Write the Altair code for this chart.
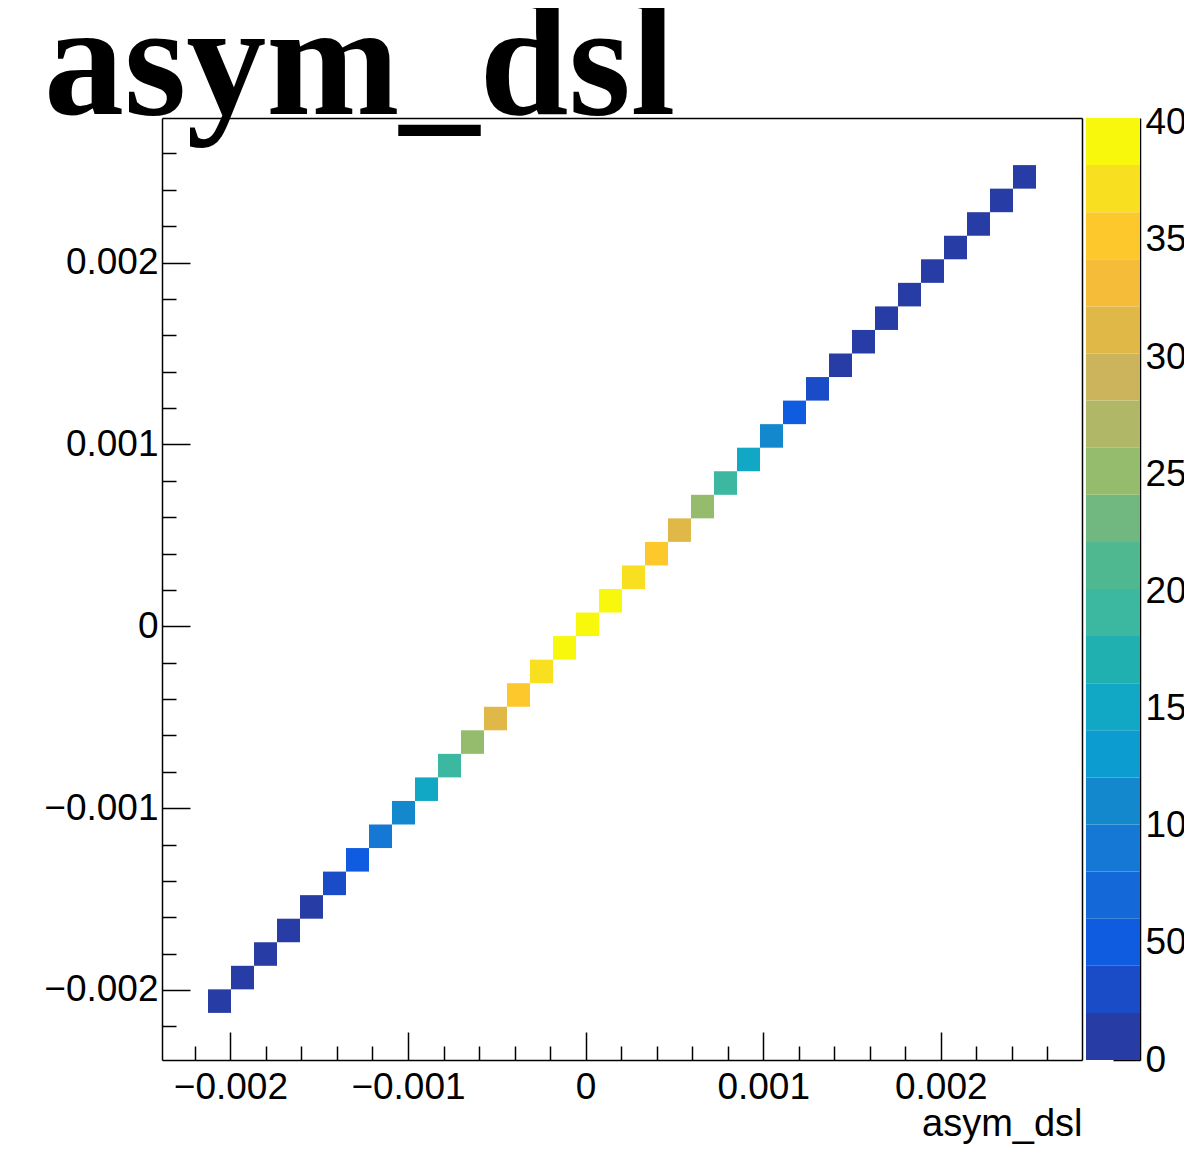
import altair as alt
import numpy as np
import pandas as pd

# ---------------- data ----------------
chart_title = "asym_dsl"
x_axis_title = "asym_dsl"

hist_min = -0.002385
hist_max = 0.002795
n_bins = 40
first_filled_bin = 2

# bin contents along the diagonal (bins 2..37)
counts = [12, 30, 55, 95, 160, 300, 500, 850, 1150, 1500, 1900, 2500,
          3100, 3500, 3700, 3900, 4020, 3950, 3700, 3500, 3100, 2500,
          1850, 1450, 1100, 500, 300, 150, 90, 60, 35, 20, 12, 6, 3, 1]

z_max = 4020
n_contours = 20
palette = ["#283ca6", "#1a4cc8", "#105ce0", "#1468d8", "#1478d4",
           "#1488cc", "#0c9cd0", "#10a8c4", "#20b0b0", "#3cb8a0",
           "#50b890", "#70b880", "#94bc6c", "#b0b868", "#ccb45c",
           "#e0b848", "#f4bc38", "#fcc82c", "#f8e020", "#f8f80c"]

major_ticks = [-0.002, -0.001, 0.0, 0.001, 0.002]
minor_ticks = [-0.0022, -0.0018, -0.0016, -0.0014, -0.0012, -0.0008,
               -0.0006, -0.0004, -0.0002, 0.0002, 0.0004, 0.0006, 0.0008,
               0.0012, 0.0014, 0.0016, 0.0018, 0.0022, 0.0024, 0.0026]
z_ticks = [0, 500, 1000, 1500, 2000, 2500, 3000, 3500, 4000]

# ---------------- tables ----------------
edges = np.linspace(hist_min, hist_max, n_bins + 1)
idx = np.arange(first_filled_bin, first_filled_bin + len(counts))
cells = pd.DataFrame({
    "x": edges[idx], "x2": edges[idx + 1],
    "y": edges[idx], "y2": edges[idx + 1],
    "count": counts,
})

band_w = z_max / n_contours
bands = pd.DataFrame({
    "lo": [k * band_w for k in range(n_contours)],
    "hi": [(k + 1) * band_w for k in range(n_contours)],
    "mid": [(k + 0.5) * band_w for k in range(n_contours)],
})
thresholds = [k * band_w for k in range(1, n_contours)]

# ---------------- layout ----------------
PLOT_W = 920
PLOT_H = 942
CB_X0 = 924
CB_X1 = 978
W = CB_X1

FONT = "Liberation Sans"
LBL = 37
label_expr = "datum.value == 0 ? '0' : replace(format(datum.value, '.3f'), '-', '\u2212')"

def xs():
    return alt.Scale(domain=[hist_min, hist_max], range=[0, PLOT_W], nice=False, zero=False)

def ys():
    return alt.Scale(domain=[hist_min, hist_max], nice=False, zero=False)

color_scale = alt.Scale(type="threshold", domain=thresholds, range=palette)

# cells + labelled axes
cells_layer = alt.Chart(cells).mark_rect().encode(
    x=alt.X("x:Q", scale=xs(), axis=alt.Axis(
        orient="bottom", values=major_ticks, ticks=False, tickSize=0,
        labelExpr=label_expr, labelFontSize=LBL, labelPadding=9,
        domain=True, title=x_axis_title, titleAnchor="end",
        titleFontSize=38, titleFontWeight="normal", titlePadding=0)),
    x2="x2:Q",
    y=alt.Y("y:Q", scale=ys(), axis=alt.Axis(
        orient="left", values=major_ticks, ticks=False, tickSize=0,
        labelExpr=label_expr, labelFontSize=LBL, labelPadding=4,
        domain=True, title=None)),
    y2="y2:Q",
    color=alt.Color("count:Q", scale=color_scale, legend=None),
)

def tick_layer(values, size):
    return alt.Chart(cells).mark_point(opacity=0).encode(
        x=alt.X("x:Q", scale=xs(), axis=alt.Axis(
            orient="top", offset=-PLOT_H, values=values, ticks=True,
            tickSize=size, labels=False, domain=False, title=None)),
        y=alt.Y("y:Q", scale=ys(), axis=alt.Axis(
            orient="right", offset=-W, values=values, ticks=True,
            tickSize=size, labels=False, domain=False, title=None)),
    )

major_layer = tick_layer(major_ticks, 28)
minor_layer = tick_layer(minor_ticks, 14)

frame_layer = alt.Chart(cells).mark_point(opacity=0).encode(
    x=alt.X("x:Q", scale=xs(), axis=alt.Axis(
        orient="top", offset=0, ticks=False, tickSize=0, labels=False,
        domain=True, title=None)),
    y=alt.Y("y:Q", scale=ys(), axis=alt.Axis(
        orient="right", offset=PLOT_W - W, ticks=False, tickSize=0,
        labels=False, domain=True, title=None)),
)

cb_y = alt.Scale(domain=[0, z_max], nice=False, zero=False)

colorbar_layer = alt.Chart(bands).mark_rect().encode(
    x=alt.X(datum=0, type="quantitative",
            scale=alt.Scale(domain=[0, 1], range=[CB_X0, CB_X1], nice=False, zero=False),
            axis=None),
    x2=alt.X2(datum=1),
    y=alt.Y("lo:Q", scale=cb_y, axis=alt.Axis(
        orient="right", values=z_ticks, ticks=False, tickSize=0,
        labelFontSize=LBL, labelPadding=5, format="d", domain=True,
        title=None)),
    y2="hi:Q",
    color=alt.Color("mid:Q", scale=color_scale, legend=None),
)

colorbar_ticks = alt.Chart(bands).mark_point(opacity=0).encode(
    y=alt.Y("lo:Q", scale=alt.Scale(domain=[0, z_max], nice=False, zero=False),
            axis=alt.Axis(orient="left", offset=-W, values=z_ticks, ticks=True,
                          tickSize=27, labels=False, domain=False, title=None)),
)

chart = alt.layer(
    cells_layer, major_layer, minor_layer, frame_layer, colorbar_layer, colorbar_ticks
).resolve_scale(
    x="independent", y="independent"
).resolve_axis(
    x="independent", y="independent"
).properties(
    width=W,
    height=PLOT_H,
    autosize=alt.AutoSizeParams(type="none"),
    padding={"left": 154, "top": 110, "right": 44, "bottom": 85},
    title=alt.TitleParams(
        text=chart_title, anchor="start", frame="group",
        font="Liberation Serif", fontSize=160, fontWeight="bold",
        color="black", baseline="alphabetic", offset=0, dx=-118, dy=170),
).configure_view(
    stroke=None
).configure_axis(
    grid=False, domainColor="black", tickColor="black", labelColor="black",
    titleColor="black", domainWidth=1.5, tickWidth=1.5,
    labelFont=FONT, titleFont=FONT,
)

chart.save("out.html", embed_options={"renderer": "svg", "actions": False})
